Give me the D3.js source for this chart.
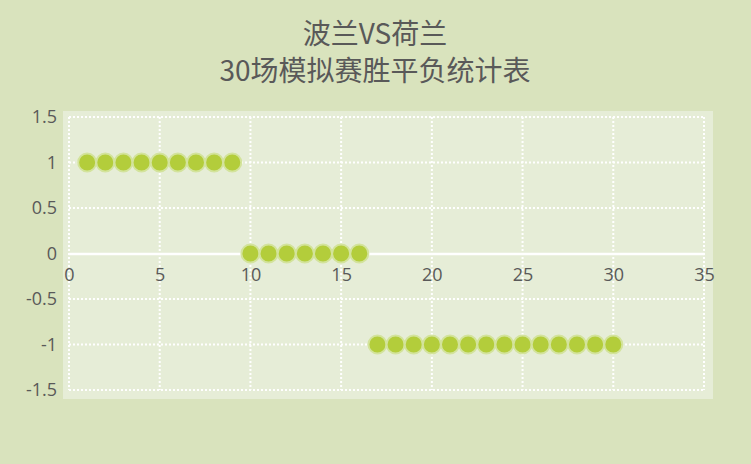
<!DOCTYPE html>
<html><head><meta charset="utf-8">
<script src="https://cdn.jsdelivr.net/npm/d3@7"></script>
<style>body{margin:0;background:#d9e3bd;}svg{display:block;}text{font-family:"Noto Sans CJK SC","Noto Sans",sans-serif;fill:#595959;}</style>
</head><body><svg id="c" width="751" height="464"></svg>
<script>
const titleLines = ["波兰VS荷兰", "30场模拟赛胜平负统计表"];
const matches = [1,2,3,4,5,6,7,8,9,10,11,12,13,14,15,16,17,18,19,20,21,22,23,24,25,26,27,28,29,30];
const results = [1,1,1,1,1,1,1,1,1,0,0,0,0,0,0,0,-1,-1,-1,-1,-1,-1,-1,-1,-1,-1,-1,-1,-1,-1];
const xTicks = [0,5,10,15,20,25,30,35];
const yTicks = [-1.5,-1,-0.5,0,0.5,1,1.5];

const svg = d3.select("#c");
const x = d3.scaleLinear().domain([0,35]).range([69,704]);
const y = d3.scaleLinear().domain([-1.5,1.5]).range([390,117]);

svg.append("rect").attr("width",751).attr("height",464).attr("fill","#d9e3bd");
svg.append("rect").attr("x",63).attr("y",111).attr("width",650).attr("height",288).attr("fill","#e6edd7");

[44,81].forEach((yy,i)=>svg.append("text").attr("text-anchor","middle").attr("font-size",28)
  .attr("x",375).attr("y",yy).text(titleLines[i]));

// grid
svg.append("g").selectAll("line").data(xTicks).join("line")
  .attr("x1",d=>x(d)).attr("x2",d=>x(d)).attr("y1",y(1.5)).attr("y2",y(-1.5))
  .attr("stroke","#fff").attr("stroke-width",2).attr("stroke-dasharray","2,2");
svg.append("g").selectAll("line").data(yTicks.filter(d=>d!==0)).join("line")
  .attr("x1",x(0)).attr("x2",x(35)).attr("y1",d=>y(d)).attr("y2",d=>y(d))
  .attr("stroke","#fff").attr("stroke-width",2).attr("stroke-dasharray","2,2");

// x axis at 0
const xa = svg.append("g").attr("transform",`translate(0,${y(0)})`)
  .call(d3.axisBottom(x).tickValues(xTicks).tickSize(0).tickPadding(15));
xa.select(".domain").attr("stroke","#fff").attr("stroke-width",2.5);
xa.selectAll("text").attr("fill","#595959").style("font-size","18px").style("font-family","'Open Sans',sans-serif");

const ya = svg.append("g").attr("transform",`translate(${x(0)},0)`)
  .call(d3.axisLeft(y).tickValues(yTicks).tickSize(0).tickPadding(12).tickFormat(d=>String(d)));
ya.select(".domain").remove();
ya.selectAll("text").attr("fill","#595959").style("font-size","18px").style("font-family","'Open Sans',sans-serif");

// points
svg.append("g").selectAll("circle").data(matches).join("circle")
  .attr("cx",(d)=>x(d)).attr("cy",(d,i)=>y(results[i])).attr("r",9)
  .attr("fill","#b3cd3b").attr("stroke","#d3e39c").attr("stroke-width",2);
</script></body></html>
